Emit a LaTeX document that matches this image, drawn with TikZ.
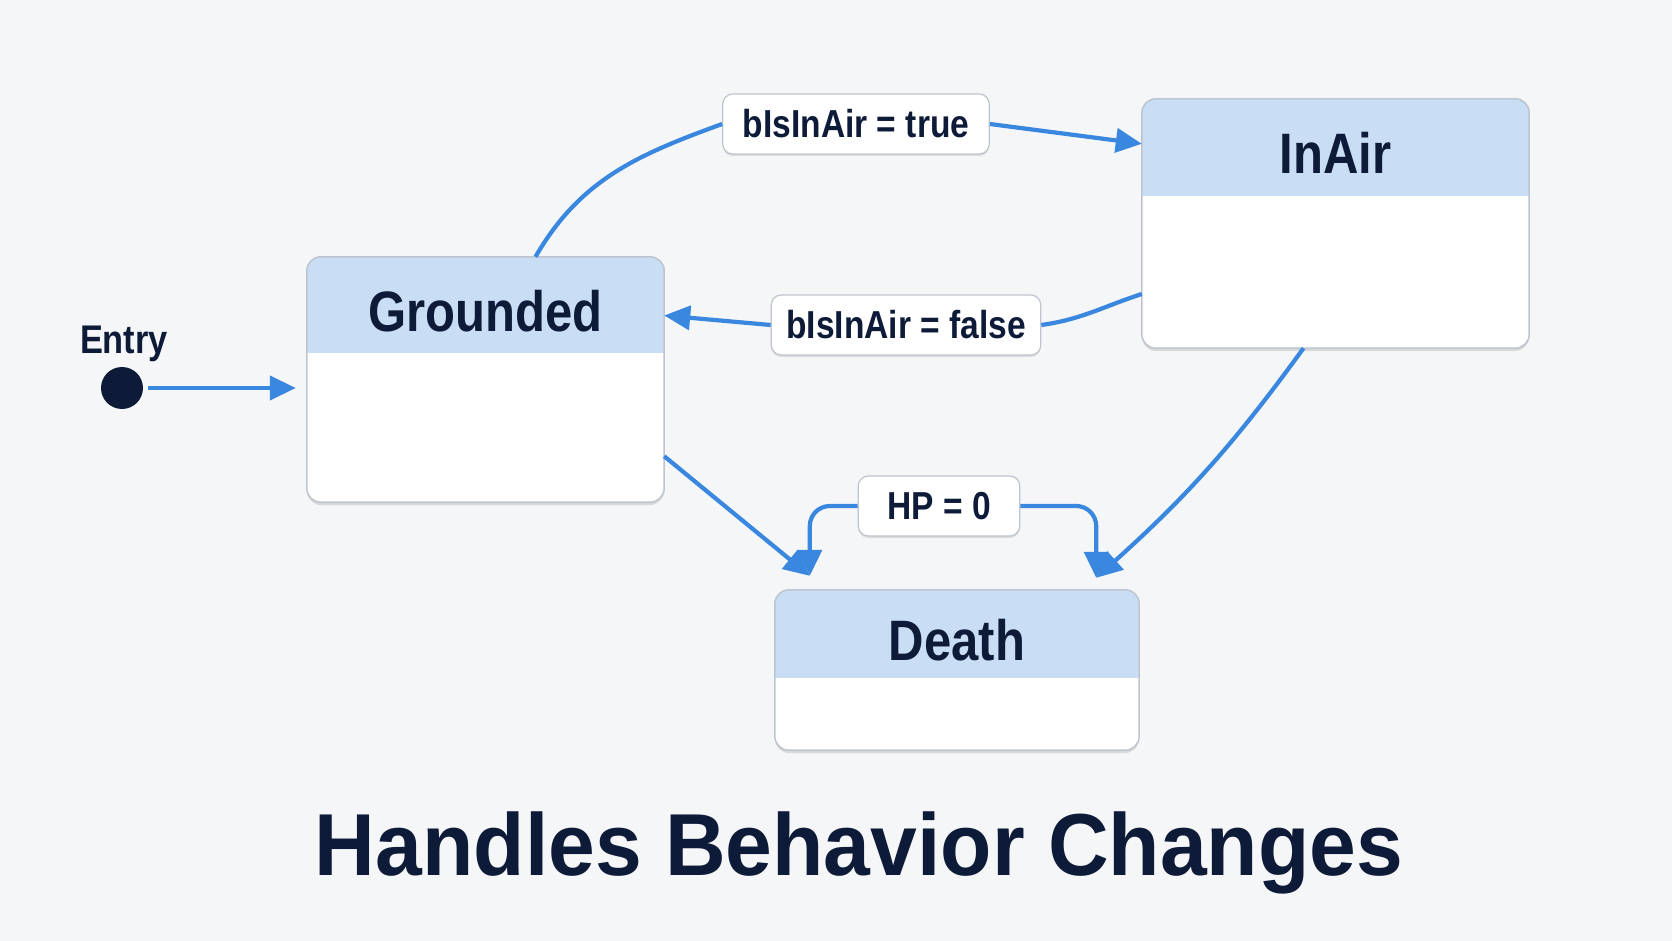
\documentclass[tikz,border=0pt]{standalone}
\usepackage{fontspec}
\setmainfont{Liberation Sans}
\newfontfamily\statefont[FakeStretch=0.86]{Liberation Sans}
\newfontfamily\titlefont[FakeStretch=0.955]{Liberation Sans}
\usetikzlibrary{arrows.meta,calc,positioning,shadows}
\definecolor{pagegray}{RGB}{245,246,248}
\definecolor{headblue}{RGB}{201,221,245}
\definecolor{boxgray}{RGB}{190,197,206}
\definecolor{inknavy}{RGB}{14,27,56}
\definecolor{flowblue}{RGB}{58,135,224}

\begin{document}
\begin{tikzpicture}[
    x=1pt, y=1pt,
    state/.style={fill=white, rounded corners=14pt, inner sep=0pt,
      drop shadow={shadow xshift=0pt, shadow yshift=-3pt, opacity=0.12, fill=black}},
    statename/.style={font=\statefont\bfseries\fontsize{57}{60}\selectfont, text=inknavy},
    guard/.style={draw=boxgray, line width=1.2pt, fill=white, rounded corners=10pt,
      minimum height=60pt, inner xsep=20pt, text=inknavy,
      font=\statefont\bfseries\fontsize{39}{42}\selectfont,
      drop shadow={shadow xshift=0pt, shadow yshift=-2pt, opacity=0.10, fill=black}},
    startdot/.style={circle, fill=inknavy, minimum size=42pt, inner sep=0pt},
    wire/.style={draw=flowblue, line width=4.2pt},
    flow/.style={wire, -{Triangle[length=26pt,width=24pt,fill=flowblue]}}
  ]
    \path[use as bounding box, fill=pagegray] (0,0) rectangle (1672,-941);

    % states
    \node[state, minimum width=357pt, minimum height=245pt] (grounded) at (485.5,-379.5) {};
    \node[state, minimum width=387pt, minimum height=249pt] (inair) at (1335.5,-223.5) {};
    \node[state, minimum width=364pt, minimum height=160pt] (death) at (957,-670) {};
    \foreach \s/\h/\t in {grounded/96/Grounded, inair/97/InAir, death/88/Death} {
      \begin{scope}
        \clip[rounded corners=14pt] (\s.south west) rectangle (\s.north east);
        \fill[headblue] (\s.north west) rectangle ($(\s.north east)+(0,-\h)$);
      \end{scope}
      \draw[boxgray, line width=1.5pt, rounded corners=14pt] (\s.south west) rectangle (\s.north east);
      \node[statename] (\s-name) at ($(\s.north)+(0,-\h/2-6)$) {\t};
    }

    % entry point
    \node[startdot] (entrydot) at (122,-388) {};
    \node[statename, font=\statefont\bfseries\fontsize{40}{42}\selectfont] (entrytext) at (124,-344) {Entry};

    % guards
    \node[guard] (lbltrue) at (856,-124) {bIsInAir = true};
    \node[guard, inner xsep=15pt] (lblfalse) at (906,-325) {bIsInAir = false};
    \node[guard, inner xsep=29pt] (lblhp) at (939,-506) {HP = 0};

    \coordinate (deathinl) at ($(death.north west)+(35,14)$);
    \coordinate (deathinr) at ($(death.north east)+(-43,12)$);

    % transitions
    \draw[flow, shorten <=5pt] (entrydot) -- ($(grounded.west |- entrydot)+(-11,0)$);
    \draw[wire] ([xshift=50pt]grounded.north) to[out=60, in=200] (lbltrue.west);
    \draw[flow] (lbltrue.east) -- ([yshift=-45pt]inair.north west);
    \draw[wire] ([yshift=-70.5pt]inair.west) to[out=198, in=8] (lblfalse.east);
    \draw[flow] (lblfalse.west) -- ([yshift=64pt]grounded.east);
    \draw[flow] ([yshift=46pt]grounded.south east) -- (deathinl);
    \draw[flow, rounded corners=20pt] (lblhp.west) -| (deathinl);
    \draw[flow, rounded corners=20pt] (lblhp.east) -| (deathinr);
    \draw[flow] ([xshift=-32pt]inair.south) to[out=234, in=42] (deathinr);

    % title
    \node[text=inknavy, font=\titlefont\bfseries\fontsize{88}{92}\selectfont] (title) at (859,-853) {Handles Behavior Changes};
  \end{tikzpicture}
\end{document}
